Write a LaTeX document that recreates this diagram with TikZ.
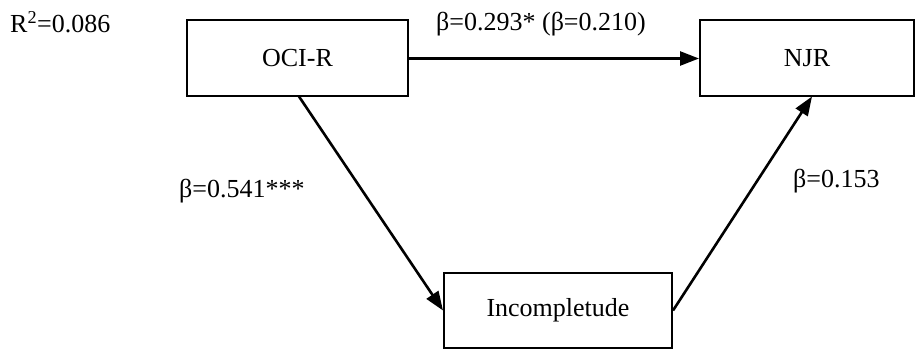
\documentclass[tikz,border=0pt]{standalone}
\usepackage{fontspec}
\setmainfont{Liberation Serif}
\usetikzlibrary{arrows.meta,calc}
\begin{document}
\begin{tikzpicture}[x=1pt,y=-1pt,
  varbox/.style={draw,line width=2pt,inner sep=0pt},
  pathline/.style={line width=2.6pt,-{Triangle[length=19pt,width=14pt]}},
  lbl/.style={font=\fontsize{26}{30}\selectfont,inner sep=0pt},
  every node/.append style={font=\fontsize{26}{30}\selectfont}]
\useasboundingbox (0,0) rectangle (916,350);
\node[varbox,minimum width=221pt,minimum height=76pt] (oci) at (297.5,58.5) {OCI-R};
\node[varbox,minimum width=214pt,minimum height=76pt] (njr) at (807,58.5) {NJR};
\node[varbox,minimum width=228pt,minimum height=75pt] (inc) at (558,310.5) {Incompletude};
\coordinate (ociB) at (299,96.5);
\coordinate (njrB) at (812,96.5);
\draw[pathline] (oci.east) -- (njr.west);
\draw[pathline] (ociB) -- (inc.west);
\draw[pathline] (inc.east) -- (njrB);
\node[lbl,anchor=base west] (r2) at (10,33) {R\textsuperscript{2}=0.086};
\node[lbl,anchor=base west] (b1) at (436,31) {β=0.293* (β=0.210)};
\node[lbl,anchor=base west] (b2) at (179,197) {β=0.541***};
\node[lbl,anchor=base west] (b3) at (793,187) {β=0.153};
\end{tikzpicture}
\end{document}
